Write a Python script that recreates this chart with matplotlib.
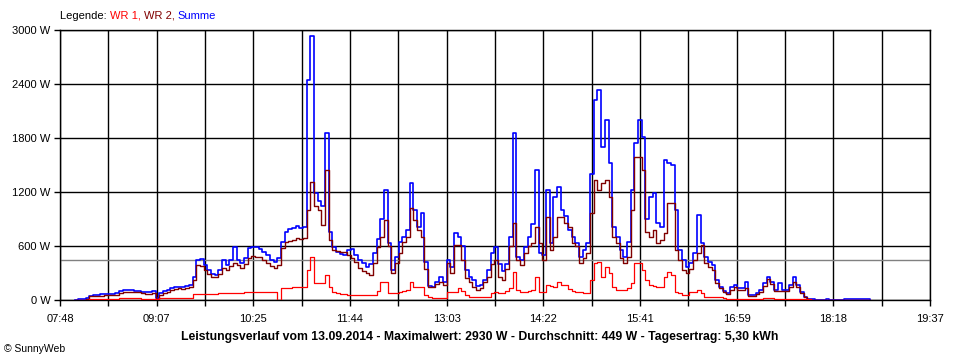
import numpy as np
import matplotlib
matplotlib.use("Agg")
import matplotlib.pyplot as plt

# Messwerte in W, ein Wert alle 3 Minuten ab 08:00
start = "08:00"
interval_min = 3

summe = [
    5, 15, 15, 20, 50, 55, 60, 62, 65, 70,
    72, 75, 105, 108, 108, 110, 105, 105, 90, 88,
    85, 95, 25, 75, 95, 110, 130, 140, 150, 148,
    160, 167, 260, 444, 455, 390, 333, 289, 281, 333,
    444, 390, 444, 592, 444, 410, 466, 574, 592, 585,
    570, 537, 500, 444, 425, 466, 650, 759, 790, 800,
    826, 796, 815, 2444, 2930, 1185, 1100, 1050, 1852, 760,
    592, 530, 510, 500, 560, 570, 500, 440, 407, 370,
    400, 518, 680, 900, 1222, 630, 333, 480, 650, 700,
    777, 1296, 1000, 815, 963, 420, 160, 148, 200, 259,
    200, 444, 370, 740, 700, 600, 330, 260, 222, 160,
    170, 220, 330, 518, 592, 400, 320, 400, 703, 1852,
    480, 450, 592, 703, 850, 1444, 518, 500, 1222, 629,
    1148, 1259, 1000, 930, 780, 703, 629, 481, 555, 629,
    1400, 2222, 2333, 1703, 2000, 1518, 815, 703, 555, 481,
    650, 1222, 1741, 2000, 1815, 900, 1148, 1185, 852, 815,
    1555, 1518, 1500, 1000, 555, 450, 370, 407, 518, 944,
    629, 481, 426, 389, 222, 148, 100, 80, 140, 167,
    130, 130, 204, 60, 55, 81, 110, 185, 259, 200,
    111, 184, 111, 111, 167, 259, 167, 92, 37, 12,
    10, 0, 0, 0, 8, 0, 0, 0, 0, 8,
    8, 8, 8, 8, 8, 8, 0,
]

wr2 = [
    0, 5, 5, 10, 40, 45, 48, 50, 52, 55,
    58, 60, 80, 85, 88, 90, 85, 85, 75, 72,
    70, 78, 15, 60, 75, 90, 110, 120, 128, 125,
    135, 140, 220, 390, 380, 330, 290, 259, 255, 290,
    360, 330, 380, 410, 390, 360, 400, 470, 485, 482,
    480, 450, 410, 378, 355, 390, 580, 640, 660, 670,
    690, 680, 690, 1000, 1315, 1050, 1000, 830, 1444, 670,
    555, 540, 537, 537, 500, 470, 420, 352, 320, 304,
    278, 407, 590, 700, 889, 600, 296, 407, 520, 643,
    700, 1018, 889, 777, 703, 350, 148, 148, 180, 204,
    167, 407, 296, 611, 611, 444, 241, 200, 150, 111,
    130, 200, 259, 400, 444, 259, 222, 350, 600, 852,
    444, 389, 518, 600, 629, 815, 629, 444, 926, 555,
    703, 926, 926, 852, 815, 629, 600, 407, 463, 518,
    963, 1333, 1222, 1296, 1333, 1148, 703, 629, 463, 407,
    481, 1000, 1592, 1592, 1444, 760, 703, 777, 629, 666,
    750, 1074, 1074, 555, 444, 333, 296, 350, 444, 518,
    611, 407, 370, 333, 185, 130, 90, 70, 110, 150,
    110, 110, 130, 50, 45, 65, 90, 160, 230, 180,
    95, 100, 95, 95, 150, 200, 150, 80, 30, 5,
    0, 0, 0, 0, 0, 0, 0, 0, 0, 0,
    0, 0, 0, 0, 0, 0, 0,
]

wr1 = [
    0, 5, 5, 5, 10, 10, 10, 10, 10, 10,
    10, 10, 18, 18, 18, 18, 18, 18, 15, 15,
    15, 15, 8, 18, 18, 18, 18, 18, 18, 18,
    18, 18, 63, 63, 63, 63, 63, 63, 63, 80,
    80, 80, 80, 80, 80, 80, 85, 92, 92, 92,
    92, 92, 92, 92, 92, 0, 130, 130, 135, 140,
    145, 148, 150, 333, 481, 185, 185, 185, 278, 148,
    90, 75, 70, 65, 60, 55, 55, 55, 55, 55,
    55, 60, 100, 204, 204, 75, 75, 80, 92, 100,
    111, 204, 140, 148, 140, 60, 30, 26, 26, 26,
    26, 92, 92, 92, 130, 100, 55, 37, 37, 37,
    37, 37, 37, 80, 92, 74, 74, 100, 130, 315,
    111, 92, 92, 100, 111, 259, 92, 92, 167, 160,
    150, 204, 170, 167, 120, 100, 90, 85, 80, 80,
    222, 407, 426, 259, 370, 296, 148, 111, 111, 111,
    130, 185, 407, 407, 330, 222, 170, 160, 150, 148,
    259, 315, 280, 92, 74, 60, 55, 92, 92, 111,
    74, 37, 30, 30, 30, 30, 20, 10, 16, 16,
    16, 16, 16, 16, 16, 16, 16, 26, 26, 26,
    16, 16, 16, 16, 16, 16, 16, 16, 8, 8,
    0, 0, 0, 0, 0, 0, 0, 0, 0, 0,
    0, 0, 0, 0, 0, 0, 0,
]

x_start = "07:48"
x_end = "19:37"
x_labels = ["07:48", "09:07", "10:25", "11:44", "13:03",
            "14:22", "15:41", "16:59", "18:18", "19:37"]
y_ticks = [0, 600, 1200, 1800, 2400, 3000]
durchschnitt = 449
title = ("Leistungsverlauf vom 13.09.2014 - Maximalwert: 2930 W - "
         "Durchschnitt: 449 W - Tagesertrag: 5,30 kWh")

C_WR1 = "#ff0000"
C_WR2 = "#800000"
C_SUM = "#0000ff"


def minutes(hhmm):
    h, m = hhmm.split(":")
    return int(h) * 60 + int(m)


plt.rcParams["font.family"] = ["Liberation Sans", "DejaVu Sans"]
plt.rcParams["font.size"] = 8

t = minutes(start) + interval_min * np.arange(len(summe))
t0, t1 = minutes(x_start), minutes(x_end)
xticks = np.linspace(t0, t1, 2 * len(x_labels) - 1)

fig = plt.figure(figsize=(9.6, 3.6), dpi=100)
ax = fig.add_axes([60 / 960, 60 / 360, 870 / 960, 270 / 360])

ax.axhline(durchschnitt, color="#808080", lw=1.0, zorder=1)
ax.step(t, summe, where="post", color=C_SUM, lw=1.2, zorder=3)
ax.step(t, wr2, where="post", color=C_WR2, lw=1.0, zorder=4)
ax.step(t, wr1, where="post", color=C_WR1, lw=0.9, zorder=5)

ax.set_xlim(t0, t1)
ax.set_ylim(0, 3000)
ax.set_xticks(xticks)
ax.set_xticklabels([x_labels[i // 2] if i % 2 == 0 else "" for i in range(len(xticks))])
ax.set_yticks(y_ticks)
ax.set_yticklabels([f"{v} W" for v in y_ticks])
ax.tick_params(direction="out", length=4, width=1, color="black", pad=3)
ax.tick_params(axis="x", pad=6)
ax.grid(True, color="black", lw=1.0, zorder=0)
ax.set_axisbelow(True)
for sp in ax.spines.values():
    sp.set_color("black")
    sp.set_linewidth(1.0)

# Legende als farbige Textstücke
fig.canvas.draw()
r = fig.canvas.get_renderer()
xpos = 60
for s, c in [("Legende: ", "black"), ("WR 1, ", C_WR1), ("WR 2, ", C_WR2), ("Summe", C_SUM)]:
    txt = fig.text(xpos / 960, 1 - 16 / 360, s, color=c, va="center", ha="left")
    xpos += txt.get_window_extent(r).width

fig.text(480 / 960, 1 - 337 / 360, title, ha="center", va="center", fontweight="bold", fontsize=8.8)
fig.text(4 / 960, 1 - 349 / 360, "\u00a9 SunnyWeb", ha="left", va="center", fontsize=7.5)

fig.savefig("out.png", dpi=100)
